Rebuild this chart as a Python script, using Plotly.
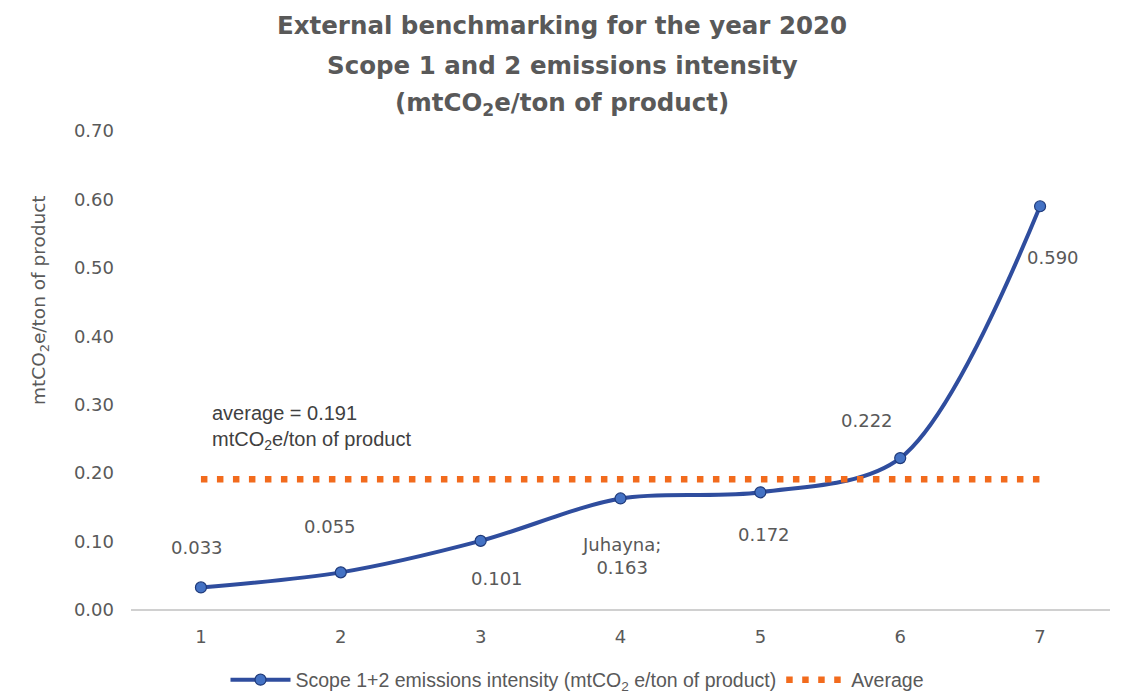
import plotly.graph_objects as go

categories = [1, 2, 3, 4, 5, 6, 7]
intensity = [0.033, 0.055, 0.101, 0.163, 0.172, 0.222, 0.590]
point_labels = ["0.033", "0.055", "0.101", "Juhayna;<br>0.163", "0.172", "0.222", "0.590"]
average_value = 0.191
y_ticks = [0.0, 0.1, 0.2, 0.3, 0.4, 0.5, 0.6, 0.7]
title_lines = ["External benchmarking for the year 2020",
               "Scope 1 and 2 emissions intensity",
               "(mtCO<sub>2</sub>e/ton of product)"]

# pixel offsets of the data labels (style)
label_offsets = [(-4, -40), (-11, -46), (16, 38), (1, 58), (4, 42), (-33, -38), (13, 51)]

TXT = "#595959"
TICKFONT = "DejaVu Sans"
fig = go.Figure()
fig.add_trace(go.Scatter(
    x=categories, y=intensity, mode="lines+markers",
    line=dict(color="#2F4D9E", width=4, shape="spline", smoothing=0.9),
    marker=dict(size=11, color="#4472C4", line=dict(color="#1F3A7A", width=1.2)),
    name="Scope 1+2 emissions intensity (mtCO<sub>2</sub> e/ton of product)",
))
fig.add_trace(go.Scatter(
    x=[categories[0], categories[-1]], y=[average_value, average_value], mode="lines",
    line=dict(color="#F26B1D", width=6.5, dash="6.5px,9.5px"),
    name="Average",
))

for xv, yv, lab, (dx, dy) in zip(categories, intensity, point_labels, label_offsets):
    fig.add_annotation(x=xv, y=yv, text=lab, showarrow=True, arrowcolor="rgba(0,0,0,0)",
                       ax=dx, ay=dy, font=dict(size=18, color=TXT, family=TICKFONT),
                       align="center")

fig.add_annotation(xref="paper", yref="paper", x=0.0807, y=0.382, xanchor="left", yanchor="middle",
                   text="average = 0.191<br>mtCO<sub>2</sub>e/ton of product", showarrow=False,
                   align="left", font=dict(size=20, color="#404040", family="Liberation Sans"))

fig.add_annotation(xref="paper", yref="paper", x=-0.093, y=0.647, xanchor="center", yanchor="middle",
                   text="mtCO<sub>2</sub>e/ton of product", textangle=-90, showarrow=False,
                   font=dict(size=18.5, color=TXT, family=TICKFONT))

for line, ypx in zip(title_lines, [25, 65, 104]):
    fig.add_annotation(xref="paper", yref="paper", x=(562 - 131) / 979, y=(610 - ypx) / 479,
                       xanchor="center", yanchor="middle", text=line, showarrow=False,
                       font=dict(size=24.5, color="#595959", family="DejaVu Sans", weight="bold"))

fig.update_layout(
    width=1123, height=696,
    margin=dict(l=131, r=13, t=131, b=86),
    paper_bgcolor="white", plot_bgcolor="white",
    xaxis=dict(range=[0.5, 7.5], tickvals=categories, showgrid=False, zeroline=False,
               showline=False, ticks="", ticklabelstandoff=14,
               tickfont=dict(size=18, color=TXT, family=TICKFONT)),
    yaxis=dict(range=[0, 0.7], tickvals=y_ticks, tickformat=".2f", showgrid=False,
               zeroline=True, zerolinecolor="#D0D0D0", zerolinewidth=2, showline=False, ticks="",
               ticklabelstandoff=16,
               tickfont=dict(size=18, color=TXT, family=TICKFONT)),
    showlegend=True,
    legend=dict(orientation="h", x=577 / 1123, xanchor="center", xref="container",
                y=(696 - 680) / 696, yanchor="middle", yref="container",
                font=dict(size=19.5, color=TXT, family="Liberation Sans"),
                itemwidth=60, tracegroupgap=0),
)

fig.write_html("out.html")
